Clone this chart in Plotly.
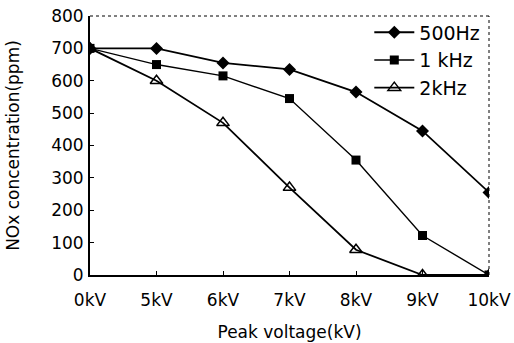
import plotly.graph_objects as go

categories = ["0kV", "5kV", "6kV", "7kV", "8kV", "9kV", "10kV"]
s500 = [700, 700, 655, 635, 565, 445, 255]
s1k = [700, 650, 615, 545, 355, 122, 0]
s2k = [700, 600, 470, 270, 78, 0, 0]
series_names = ["500Hz", "1 kHz", "2kHz"]
y_ticks = [0, 100, 200, 300, 400, 500, 600, 700, 800]

xpos = list(range(len(categories)))
font = dict(family="DejaVu Sans, sans-serif", color="black")

fig = go.Figure()
fig.add_trace(go.Scatter(x=xpos, y=s500, name=series_names[0], mode="lines+markers",
                         line=dict(color="black", width=1.8),
                         marker=dict(symbol="diamond", size=10, color="black")))
fig.add_trace(go.Scatter(x=xpos, y=s1k, name=series_names[1], mode="lines+markers",
                         line=dict(color="black", width=1.4),
                         marker=dict(symbol="square", size=9, color="black")))
fig.add_trace(go.Scatter(x=xpos, y=s2k, name=series_names[2], mode="lines+markers",
                         line=dict(color="black", width=1.8),
                         marker=dict(symbol="triangle-up-open", size=11, color="black",
                                     line=dict(width=1.5, color="black"))))

fig.update_layout(
    width=514, height=343,
    margin=dict(l=90, r=25, t=16, b=68),
    paper_bgcolor="white", plot_bgcolor="white",
    font=dict(size=17, **font),
    showlegend=True,
    legend=dict(x=0.70, y=1.01, xanchor="left", yanchor="top",
                bgcolor="rgba(0,0,0,0)", font=dict(size=19, **font),
                tracegroupgap=0, itemwidth=40),
    xaxis=dict(range=[0, 6], tickvals=xpos, ticktext=categories, automargin=False,
               showgrid=False, zeroline=False, showline=True, linecolor="black", linewidth=2,
               ticks="inside", ticklen=4, tickcolor="black", ticklabelstandoff=9,
               tickfont=dict(size=17, **font),
               title=dict(text="Peak voltage(kV)", font=dict(size=17, **font), standoff=17)),
    yaxis=dict(range=[0, 800], tickvals=y_ticks, showgrid=False, zeroline=False, automargin=False,
               showline=True, linecolor="black", linewidth=2,
               ticks="inside", ticklen=4, tickcolor="black", ticklabelstandoff=1,
               tickfont=dict(size=17, **font),
               title=dict(text="NOx concentration(ppm)", font=dict(size=17, **font), standoff=27)),
)
fig.add_shape(type="line", xref="paper", yref="paper", x0=0, x1=1, y0=1, y1=1,
              line=dict(color="black", width=1, dash="dot"))
fig.add_shape(type="line", xref="paper", yref="paper", x0=1, x1=1, y0=0, y1=1,
              line=dict(color="black", width=1, dash="dot"))

fig.write_html("out.html", config={"displayModeBar": False},
               post_script="document.body.style.margin='0';document.body.style.overflow='hidden';")
